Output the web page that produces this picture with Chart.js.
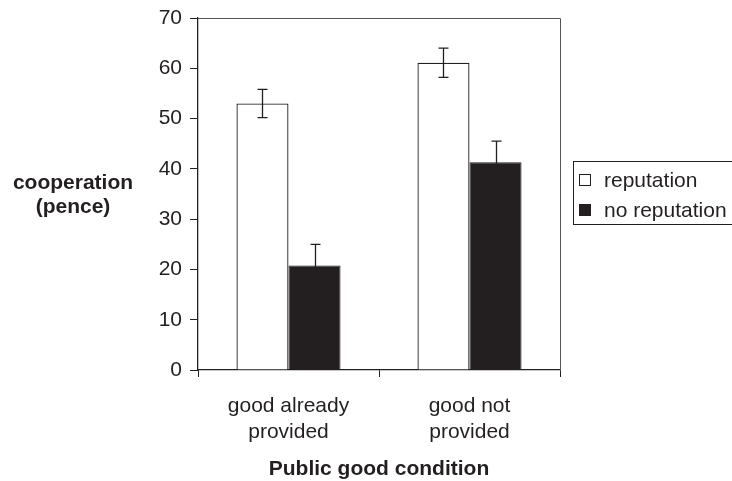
<!DOCTYPE html>
<html>
<head>
<meta charset="utf-8">
<script src="https://cdn.jsdelivr.net/npm/chart.js@4.4.1/dist/chart.umd.min.js"></script>
<style>
  html, body { margin: 0; padding: 0; background: #fff; }
  #wrap { width: 732px; height: 481px; }
</style>
</head>
<body>
<div id="wrap"><canvas id="chart" width="732" height="481"></canvas></div>
<script>
// data
const categories = [["good already", "provided"], ["good not", "provided"]];
const reputation = [53.0, 61.1];
const reputationErr = [2.8, 2.9];
const noReputation = [20.8, 41.3];
const noReputationErr = [4.2, 4.2];
const yTicks = [0, 10, 20, 30, 40, 50, 60, 70];

const ink = "#231f20";
const font = "'Liberation Sans', Arial, sans-serif";

// error bars, top border and legend drawn on top of the bars
const extras = {
  id: "extras",
  afterDatasetsDraw(chart) {
    const ctx = chart.ctx;
    const area = chart.chartArea;
    const y = chart.scales.y;
    const errs = [reputationErr, noReputationErr];

    ctx.save();
    ctx.strokeStyle = ink;
    ctx.lineWidth = 1.3;
    chart.data.datasets.forEach((ds, i) => {
      const meta = chart.getDatasetMeta(i);
      meta.data.forEach((bar, j) => {
        const v = ds.data[j];
        const e = errs[i][j];
        const x = Math.round(bar.x) + 0.5;
        const yt = y.getPixelForValue(v + e);
        const yb = y.getPixelForValue(v - e);
        ctx.beginPath();
        ctx.moveTo(x, yt);
        ctx.lineTo(x, yb);
        ctx.moveTo(x - 5, yt);
        ctx.lineTo(x + 5, yt);
        ctx.moveTo(x - 5, yb);
        ctx.lineTo(x + 5, yb);
        ctx.stroke();
      });
    });

    // top and right frame
    ctx.strokeStyle = "#555";
    ctx.lineWidth = 1;
    ctx.beginPath();
    ctx.moveTo(area.left, area.top + 0.5);
    ctx.lineTo(area.right + 0.5, area.top + 0.5);
    ctx.lineTo(area.right + 0.5, area.bottom);
    ctx.stroke();
    ctx.restore();
  },
  afterDraw(chart) {
    const ctx = chart.ctx;
    ctx.save();
    ctx.fillStyle = ink;
    ctx.textAlign = "center";
    ctx.textBaseline = "middle";
    ctx.font = "bold 21px " + font;
    ctx.fillText("cooperation", 73, 183);
    ctx.fillText("(pence)", 73, 207);
    ctx.fillText("Public good condition", 379, 469);

    // legend
    ctx.strokeStyle = ink;
    ctx.lineWidth = 1;
    ctx.strokeRect(573.5, 161.5, 170, 63);
    ctx.font = "21px " + font;
    ctx.textAlign = "left";
    const rows = [180, 210];
    chart.data.datasets.forEach((ds, i) => {
      ctx.fillStyle = ds.backgroundColor;
      ctx.fillRect(579.5, rows[i] - 5.5, 11, 11);
      ctx.strokeRect(579.5, rows[i] - 5.5, 11, 11);
      ctx.fillStyle = ink;
      ctx.fillText(ds.label, 604, rows[i] + 1);
    });
    ctx.restore();
  }
};

new Chart(document.getElementById("chart"), {
  type: "bar",
  data: {
    labels: categories,
    datasets: [
      {
        label: "reputation",
        data: reputation,
        backgroundColor: "#ffffff",
        borderColor: ink,
        borderWidth: 1.3,
        categoryPercentage: 0.575,
        barPercentage: 1.0,
      },
      {
        label: "no reputation",
        data: noReputation,
        backgroundColor: ink,
        borderColor: ink,
        borderWidth: 1,
        categoryPercentage: 0.575,
        barPercentage: 1.0,
      },
    ],
  },
  options: {
    responsive: false,
    animation: false,
    devicePixelRatio: 1,
    layout: {
      padding: { left: 0, top: 18, right: 172, bottom: 0 },
    },
    plugins: {
      legend: { display: false },
      tooltip: { enabled: false },
    },
    scales: {
      x: {
        offset: true,
        grid: {
          offset: true,
          drawOnChartArea: false,
          tickLength: 7,
          color: ink,
        },
        border: { color: ink, width: 1.3 },
        ticks: {
          color: ink,
          padding: 16,
          font: { family: font, size: 21, lineHeight: 1.25 },
        },
        afterFit(scale) { scale.height = 111; },
      },
      y: {
        min: 0,
        max: 70,
        afterBuildTicks(scale) {
          scale.ticks = yTicks.map(v => ({ value: v }));
        },
        grid: {
          drawOnChartArea: false,
          tickLength: 8,
          color: ink,
        },
        border: { color: ink, width: 1.3 },
        ticks: {
          color: ink,
          padding: 8,
          font: { family: font, size: 21, lineHeight: 0.8 },
        },
        afterFit(scale) {
          scale.width = 198;
          scale.paddingTop = 0;
          scale.paddingBottom = 0;
        },
      },
    },
  },
  plugins: [extras],
});
</script>
</body>
</html>
